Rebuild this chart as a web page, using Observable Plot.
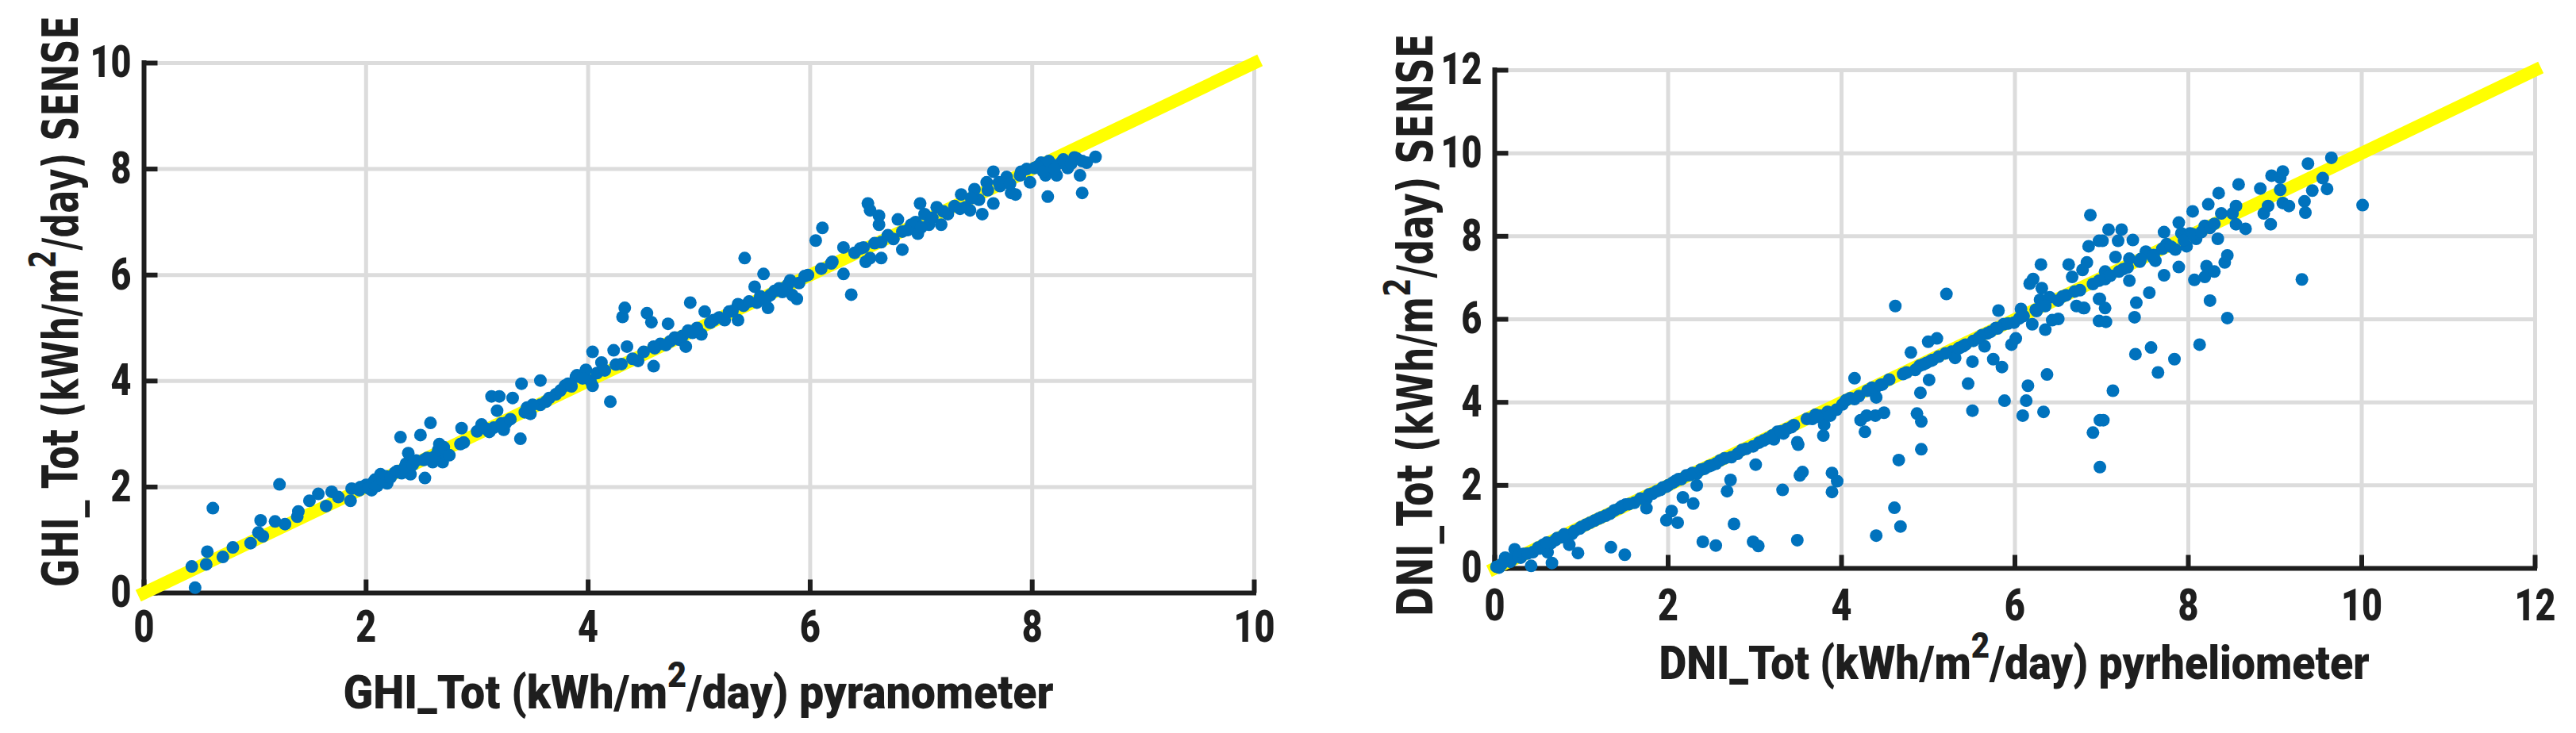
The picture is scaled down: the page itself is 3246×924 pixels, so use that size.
<!DOCTYPE html>
<html>
<head>
<meta charset="utf-8">
<script src="https://cdn.jsdelivr.net/npm/d3@7"></script>
<script src="https://cdn.jsdelivr.net/npm/@observablehq/plot@0.6"></script>
<style>
  html, body { margin: 0; padding: 0; background: #fff; }
  #wrap { display: flex; width: 3246px; height: 924px; overflow: hidden; }
  #wrap > div { width: 1623px; height: 924px; }
  svg { display: block; }
</style>
</head>
<body>
<div id="wrap"><div id="left"></div><div id="right"></div></div>
<script>
// ---------- DATA ----------
const ghiTicks = [0, 2, 4, 6, 8, 10];
const dniTicks = [0, 2, 4, 6, 8, 10, 12];
const ghiOneToOne = [0, 10];
const dniOneToOne = [0, 12];

// [pyranometer, SENSE]
const ghiPoints = [
  [0.46,0.10],[0.43,0.50],[0.56,0.54],[0.57,0.78],[0.62,1.60],[0.71,0.68],[0.80,0.86],[0.96,0.94],
  [1.03,1.14],[1.07,1.07],[1.05,1.37],[1.18,1.35],[1.27,1.30],[1.22,2.05],[1.38,1.44],[1.39,1.54],
  [1.49,1.74],[1.57,1.87],[1.64,1.64],[1.69,1.91],[1.75,1.81],[1.86,1.74],[1.87,1.97],[1.94,1.94],
  [2.00,2.04],[2.05,1.94],[2.08,2.14],[2.13,2.24],[2.19,2.07],[2.26,2.27],[2.31,2.94],[2.36,2.44],
  [2.38,2.64],[2.40,2.24],[2.49,2.98],[2.53,2.17],[2.58,3.21],[2.52,2.51],[2.60,2.47],[2.66,2.81],
  [2.69,2.47],[2.71,2.64],[2.85,2.81],[2.86,3.11],[2.88,2.84],[3.04,3.18],[3.13,3.71],[3.20,3.71],
  [3.18,3.44],[3.11,3.04],[3.24,3.08],[3.26,3.21],[3.32,3.68],[3.39,2.91],[3.40,3.95],[3.43,3.41],
  [3.48,3.38],[3.57,4.01],[3.57,3.55],[3.62,3.61],[3.71,3.75],[3.79,3.91],[3.82,3.95],[3.89,4.08],
  [3.90,4.11],[3.98,4.21],[4.04,4.55],[4.02,4.01],[4.04,3.91],[4.12,4.35],[4.20,3.61],[4.25,4.31],
  [4.23,4.58],[4.31,5.21],[4.33,5.38],[4.35,4.65],[4.45,4.38],[4.53,5.28],[4.57,5.11],[4.59,4.28],
  [4.59,4.65],[4.72,5.08],[4.74,4.75],[4.82,4.78],[4.88,4.65],[4.92,5.48],[4.94,4.91],[5.02,4.88],
  [5.05,5.31],[5.13,5.15],[5.23,5.15],[5.27,5.31],[5.35,5.15],[5.35,5.45],[5.41,6.32],[5.50,5.78],
  [5.52,5.48],[5.58,6.02],[5.62,5.38],[5.64,5.62],[5.72,5.75],[5.80,5.82],[5.84,5.62],[5.88,5.55],
  [5.95,5.98],[6.05,6.65],[6.11,6.89],[6.19,6.22],[6.30,6.52],[6.30,6.02],[6.37,5.63],[6.48,6.52],
  [6.50,6.25],[6.54,6.32],[6.52,7.35],[6.54,7.22],[6.62,7.12],[6.62,6.95],[6.64,6.62],[6.64,6.32],
  [6.75,6.68],[6.79,7.05],[6.83,6.48],[6.83,6.82],[6.91,6.95],[6.97,6.78],[6.99,7.35],[7.03,7.15],
  [7.07,6.95],[7.14,7.28],[7.18,6.95],[7.24,7.15],[7.36,7.52],[7.40,7.28],[7.44,7.22],[7.48,7.62],
  [7.52,7.42],[7.55,7.15],[7.59,7.75],[7.65,7.95],[7.65,7.35],[7.71,7.68],[7.77,7.85],[7.81,7.55],
  [7.85,7.52],[7.89,7.88],[7.98,7.75],[8.02,8.02],[8.08,8.12],[8.12,7.88],[8.14,7.48],[8.18,8.08],
  [8.22,7.88],[8.26,8.12],[8.32,8.02],[8.38,8.22],[8.43,7.88],[8.45,7.55],[8.49,8.12],[8.57,8.23],
  [1.95,2.00],[2.02,1.98],[2.06,2.08],[2.10,2.02],[2.15,2.12],[2.18,2.20],[2.22,2.18],[2.28,2.30],
  [2.32,2.26],[2.35,2.38],[2.42,2.42],[2.45,2.50],[2.55,2.55],[2.62,2.58],[2.65,2.70],[2.70,2.75],
  [2.75,2.60],[3.00,3.05],[3.08,3.10],[3.15,3.12],[3.22,3.20],[3.30,3.28],[3.45,3.50],[3.50,3.55],
  [3.65,3.68],[3.75,3.82],[3.85,3.90],[3.95,4.05],[4.08,4.15],[4.15,4.20],[4.30,4.32],[4.40,4.42],
  [4.50,4.55],[4.60,4.62],[4.65,4.70],[4.70,4.68],[4.78,4.82],[4.85,4.85],[4.90,4.95],[4.98,5.00],
  [5.10,5.10],[5.18,5.20],[5.30,5.32],[5.40,5.42],[5.45,5.50],[5.55,5.60],[5.60,5.55],[5.68,5.70],
  [5.75,5.68],[5.82,5.90],[5.90,5.85],[5.98,6.00],[6.10,6.12],[6.20,6.25],[6.40,6.42],[6.45,6.50],
  [6.58,6.60],[6.70,6.75],[6.88,6.85],[6.95,7.00],[7.00,6.90],[7.10,7.08],[7.20,7.20],[7.30,7.30],
  [7.35,7.25],[7.45,7.45],[7.60,7.60],[7.70,7.75],[7.80,7.72],[7.90,7.95],[7.95,8.00],[8.05,8.05],
  [8.10,7.95],[8.15,8.15],[8.20,8.00],[8.28,8.18],[8.35,8.10],[8.40,8.20],[8.45,8.15]
];

// [pyrheliometer, SENSE]
const dniPoints = [
  [0.02,0.04],[0.12,0.26],[0.23,0.46],[0.30,0.26],[0.42,0.06],[0.44,0.39],[0.56,0.57],[0.61,0.39],
  [0.65,0.61],[0.66,0.13],[0.77,0.75],[0.86,0.57],[0.89,0.83],[0.96,0.37],[0.98,0.96],[1.10,1.10],
  [1.23,1.23],[1.33,1.32],[1.34,0.51],[1.44,1.45],[1.50,0.33],[1.51,1.54],[1.61,1.58],[1.75,1.67],
  [1.75,1.45],[1.82,1.80],[1.91,1.89],[1.98,1.97],[1.98,1.16],[2.04,1.38],[2.05,2.06],[2.11,1.10],
  [2.12,2.15],[2.17,1.71],[2.21,2.24],[2.29,1.56],[2.33,2.28],[2.33,2.00],[2.40,0.64],[2.47,2.46],
  [2.55,0.55],[2.55,2.52],[2.68,1.86],[2.72,2.13],[2.73,2.68],[2.76,1.07],[2.80,2.76],[2.98,2.94],
  [2.98,0.64],[3.01,2.50],[3.04,0.54],[3.05,3.03],[3.15,3.13],[3.22,3.11],[3.26,3.29],[3.32,1.89],
  [3.33,3.25],[3.42,3.40],[3.49,0.68],[3.49,3.04],[3.50,2.98],[3.52,2.24],[3.55,2.32],[3.66,3.60],
  [3.75,3.68],[3.79,3.20],[3.80,3.46],[3.84,3.77],[3.87,3.68],[3.89,2.30],[3.89,1.84],[3.94,3.82],
  [3.95,2.10],[4.01,3.95],[4.15,4.58],[4.15,4.08],[4.22,3.57],[4.27,3.29],[4.29,3.68],[4.38,4.30],
  [4.39,3.68],[4.40,0.79],[4.40,4.12],[4.47,4.43],[4.49,3.75],[4.62,6.32],[4.61,1.46],[4.66,2.61],
  [4.68,1.01],[4.71,4.68],[4.80,5.20],[4.85,4.78],[4.87,3.73],[4.91,4.23],[4.92,3.54],[4.92,2.87],
  [4.94,4.91],[5.01,4.54],[5.03,5.00],[5.00,5.46],[5.10,5.54],[5.21,6.61],[5.27,5.22],[5.31,5.07],
  [5.36,5.31],[5.43,5.39],[5.46,4.45],[5.51,3.80],[5.51,4.98],[5.52,5.48],[5.65,5.35],[5.68,5.66],
  [5.75,5.04],[5.78,5.79],[5.81,6.21],[5.85,4.85],[5.87,5.88],[5.88,4.04],[5.96,5.39],[5.99,5.92],
  [6.01,5.54],[6.07,6.25],[6.09,3.68],[6.13,4.04],[6.15,4.40],[6.17,6.86],[6.21,6.97],[6.20,5.88],
  [6.24,6.23],[6.30,7.32],[6.31,6.75],[6.29,6.47],[6.33,3.77],[6.35,5.75],[6.37,4.67],[6.40,6.53],
  [6.43,5.98],[6.50,6.01],[6.50,6.45],[6.59,6.58],[6.62,7.32],[6.66,7.02],[6.69,6.67],[6.71,6.32],
  [6.78,7.19],[6.80,6.27],[6.83,7.37],[6.85,7.76],[6.87,8.51],[6.90,3.27],[6.97,7.89],[6.98,2.44],
  [6.98,3.57],[6.97,6.93],[6.97,6.49],[6.97,5.96],[7.08,8.16],[7.23,8.16],[7.19,7.89],[7.36,7.91],
  [7.01,7.89],[7.16,7.50],[7.32,7.46],[7.25,7.21],[7.04,7.15],[7.04,6.97],[7.32,6.93],[7.44,7.39],
  [7.51,7.63],[7.59,7.50],[7.62,7.41],[7.55,6.64],[7.40,6.40],[7.38,6.05],[6.98,6.49],[7.04,6.27],
  [7.05,5.94],[6.79,6.27],[7.72,7.06],[7.72,8.10],[7.75,7.81],[7.85,7.68],[7.89,8.33],[7.89,7.26],
  [7.92,8.07],[7.98,7.76],[8.02,8.07],[8.05,8.60],[8.07,6.95],[8.09,7.94],[8.13,5.39],[8.19,8.25],
  [8.21,7.28],[8.19,7.02],[8.23,8.77],[8.25,6.45],[8.30,7.15],[8.34,7.94],[8.35,9.04],[8.38,8.55],
  [8.42,7.37],[8.45,7.54],[8.45,6.03],[8.51,8.55],[8.55,8.73],[8.55,8.29],[8.58,9.25],[8.66,8.18],
  [8.83,9.15],[8.87,8.55],[8.92,8.73],[8.96,9.46],[8.95,8.29],[9.06,9.41],[9.09,9.56],[9.06,9.12],
  [9.09,8.80],[9.16,8.73],[9.31,6.96],[9.34,8.84],[9.35,8.57],[9.38,9.75],[9.43,9.10],[9.55,9.40],
  [9.60,9.14],[9.65,9.89],[10.01,8.75],[7.57,5.32],[7.39,5.16],[7.84,5.04],[7.65,4.72],[7.13,4.28],
  [7.02,3.57],
  [0.05,0.02],[0.08,0.10],[0.18,0.16],[0.20,0.22],[0.27,0.30],[0.33,0.35],[0.38,0.36],[0.50,0.50],
  [0.52,0.48],[0.60,0.62],[0.70,0.68],[0.72,0.73],[0.80,0.82],[0.92,0.90],[1.00,1.00],[1.05,1.05],
  [1.15,1.15],[1.20,1.20],[1.28,1.27],[1.38,1.40],[1.47,1.50],[1.55,1.55],[1.68,1.68],[1.78,1.78],
  [1.87,1.86],[1.94,1.95],[2.00,2.00],[2.08,2.10],[2.15,2.15],[2.25,2.25],[2.28,2.30],[2.38,2.38],
  [2.42,2.40],[2.50,2.48],[2.60,2.60],[2.65,2.65],[2.85,2.85],[2.90,2.88],[3.10,3.08],[3.20,3.20],
  [3.30,3.30],[3.37,3.36],[3.45,3.45],[3.60,3.60],[3.70,3.70],[3.72,3.65],[4.05,4.05],[4.10,4.10],
  [4.20,4.15],[4.30,4.28],[4.35,4.35],[4.45,4.42],[4.55,4.55],[4.75,4.72],[4.90,4.88],[4.98,4.95],
  [5.05,5.02],[5.12,5.10],[5.20,5.18],[5.35,5.30],[5.40,5.35],[5.58,5.55],[5.62,5.62],[5.72,5.70],
  [5.80,5.78],[5.92,5.90],[6.05,6.02],[6.10,6.08],[6.25,6.20],[6.35,6.32],[6.55,6.55],[6.75,6.70],
  [6.90,6.85],[7.10,7.05],[7.20,7.15],[7.30,7.25],[7.45,7.45],[7.60,7.55],[7.70,7.70],[7.80,7.75],
  [7.95,7.90],[8.05,8.05],[8.15,8.10],[8.25,8.20],[8.30,8.30]
];

// ---------- STYLE ----------
const INK = "#1e1e1e";
const GRID = "#dcdcdc";
const BLUE = "#0072bd";
const YELLOW = "#ffff00";
const NARROW = "Roboto, 'Liberation Sans', sans-serif";
const WIDE = "'DejaVu Sans', 'Liberation Sans', sans-serif";
const TICK_LEN = 17;

// inward tick marks drawn as custom dot symbols (pixel length)
const tickUp = {draw(ctx) { ctx.moveTo(0, 0); ctx.lineTo(0, -TICK_LEN); }};
const tickRight = {draw(ctx) { ctx.moveTo(0, 0); ctx.lineTo(TICK_LEN, 0); }};

function scatter({ticks, oneToOne, points, width, height, margins, xPad}) {
  const lo = ticks[0], hi = ticks[ticks.length - 1];
  return Plot.plot({
    width, height,
    marginLeft: margins[0], marginRight: margins[1], marginTop: margins[2], marginBottom: margins[3],
    x: {domain: [lo, hi], ticks, label: null},
    y: {domain: [lo, hi], ticks, label: null},
    style: {background: "transparent", color: INK, fontFamily: NARROW},
    marks: [
      Plot.gridX(ticks, {stroke: GRID, strokeOpacity: 1, strokeWidth: 5}),
      Plot.gridY(ticks, {stroke: GRID, strokeOpacity: 1, strokeWidth: 5}),
      Plot.ruleX([lo], {stroke: INK, strokeWidth: 6, strokeLinecap: "square"}),
      Plot.ruleY([lo], {stroke: INK, strokeWidth: 6, strokeLinecap: "square"}),
      Plot.dot(ticks, {x: d => d, y: lo, symbol: tickUp, fill: "none", stroke: INK, strokeWidth: 6}),
      Plot.dot(ticks, {x: lo, y: d => d, symbol: tickRight, fill: "none", stroke: INK, strokeWidth: 6}),
      Plot.axisX(ticks, {tickSize: 0, tickPadding: xPad, fontSize: 56, fontWeight: 900, fill: INK, label: null, tickFormat: d => String(d)}),
      Plot.axisY(ticks, {tickSize: 0, tickPadding: 16, fontSize: 56, fontWeight: 900, fill: INK, label: null, tickFormat: d => String(d)}),
      Plot.line(oneToOne, {x: d => d, y: d => d, stroke: YELLOW, strokeWidth: 16, strokeLinecap: "square"}),
      Plot.dot(points, {x: d => d[0], y: d => d[1], r: 8, fill: BLUE, stroke: "none"})
    ]
  });
}

function label(svg, {x, y, rotate, before, after, size, family, weight, length}) {
  const t = d3.select(svg).append("text")
    .attr("transform", `translate(${x},${y}) rotate(${rotate})`)
    .attr("text-anchor", "middle")
    .attr("font-family", family)
    .attr("font-weight", weight)
    .attr("font-size", size)
    .attr("fill", INK)
    .attr("textLength", length)
    .attr("lengthAdjust", "spacingAndGlyphs");
  t.append("tspan").text(before);
  t.append("tspan").attr("font-size", size * 0.75).attr("dy", -size * 0.45).text("2");
  t.append("tspan").attr("dy", size * 0.45).text(after);
}

// condense tick labels (reference uses a narrow bold face)
function condenseTicks(svg, factor) {
  d3.select(svg).selectAll("g[aria-label$='tick label'] text").each(function () {
    const len = this.getComputedTextLength();
    d3.select(this).attr("textLength", len * factor).attr("lengthAdjust", "spacingAndGlyphs");
  });
}

// ---------- LEFT: GHI ----------
const left = scatter({ticks: ghiTicks, oneToOne: ghiOneToOne, points: ghiPoints,
  width: 1623, height: 924, margins: [181, 43, 79, 177], xPad: 22});
label(left, {x: 880, y: 893, rotate: 0, before: "GHI_Tot (kWh/m", after: "/day) pyranometer",
  size: 60, family: NARROW, weight: 900, length: 895});
label(left, {x: 98, y: 380, rotate: -90, before: "GHI_ Tot (kWh/m", after: "/day) SENSE",
  size: 62, family: WIDE, weight: "bold", length: 720});
document.getElementById("left").appendChild(left);
condenseTicks(left, 0.8);

// ---------- RIGHT: DNI ----------
const right = scatter({ticks: dniTicks, oneToOne: dniOneToOne, points: dniPoints,
  width: 1623, height: 924, margins: [260, 52, 88, 208], xPad: 26});
label(right, {x: 915, y: 856, rotate: 0, before: "DNI_Tot (kWh/m", after: "/day) pyrheliometer",
  size: 60, family: NARROW, weight: 900, length: 895});
label(right, {x: 182, y: 410, rotate: -90, before: "DNI_Tot (kWh/m", after: "/day) SENSE",
  size: 62, family: WIDE, weight: "bold", length: 735});
document.getElementById("right").appendChild(right);
condenseTicks(right, 0.8);
</script>
</body>
</html>
